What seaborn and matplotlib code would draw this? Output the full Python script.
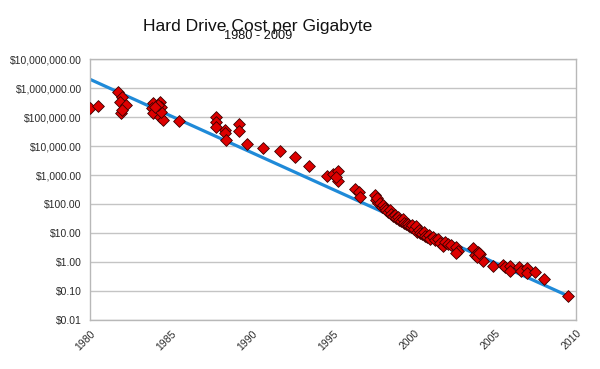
import numpy as np
import pandas as pd
import seaborn as sns
import matplotlib.pyplot as plt
from matplotlib.ticker import FixedLocator, FuncFormatter

# cost per gigabyte (USD) by year
years = [
    1980.0, 1980.5, 1981.7, 1981.95, 1981.85, 1982.2, 1981.9, 1982.0,
    1983.9, 1984.3, 1983.8, 1984.4, 1984.1, 1983.9, 1984.3, 1984.5, 1984.4, 1984.2, 1984.0,
    1985.5, 1987.76, 1987.76, 1987.76, 1988.33, 1988.33, 1988.4, 1989.2, 1989.2,
    1989.7, 1990.7, 1991.7, 1992.65, 1993.5, 1994.65, 1995.0, 1995.3, 1995.3, 1995.17,
    1996.36, 1996.6, 1996.67, 1997.6, 1997.65, 1997.8,
    1997.7, 1997.9, 1998.0, 1998.1, 1998.2, 1998.3, 1998.4, 1998.5, 1998.6, 1998.7,
    1998.8, 1998.9, 1999.0, 1999.1, 1999.2, 1999.3, 1999.4, 1999.5, 1999.6, 1999.7,
    1999.8, 1999.9, 2000.0, 2000.1, 2000.2, 2000.3, 2000.4, 2000.5, 2000.6, 2000.7,
    2000.8, 2000.9, 2001.0, 2001.2, 2001.3, 2001.5, 2001.6, 2001.8, 2001.9, 2002.1,
    2002.3, 2002.6, 2002.7, 2002.6,
    2003.66, 2003.77, 2003.98, 2004.1, 2004.24, 2003.87, 2004.0, 2004.9, 2005.5, 2005.6,
    2005.9, 2005.9, 2006.5, 2006.6, 2006.95, 2006.95, 2007.47, 2008.0, 2009.5,
]
cost = [
    2.0e5, 2.4e5, 7.4e5, 5.0e5, 3.2e5, 2.6e5, 1.4e5, 1.8e5,
    3.1e5, 3.4e5, 2.0e5, 2.3e5, 1.7e5, 1.35e5, 1.0e5, 8.0e4, 1.5e5, 2.6e5, 2.2e5,
    7.4e4, 1.0e5, 6.9e4, 4.7e4, 3.5e4, 2.8e4, 1.6e4, 5.8e4, 3.4e4,
    1.2e4, 8.7e3, 6.9e3, 4.1e3, 2.0e3, 930, 1070, 1400, 630, 870,
    320, 270, 170, 200, 140, 105,
    158, 112, 79, 89, 71, 63, 52, 60, 45, 40,
    42, 32, 35, 28, 25, 30, 22, 20, 21, 18,
    16, 19, 14, 17, 11, 12.6, 10, 8.9, 10.5, 7.9,
    7.1, 8.3, 6.3, 7.1, 5.6, 6.0, 4.5, 3.5, 5.0, 4.2,
    3.8, 3.2, 2.4, 2.0,
    2.95, 1.74, 2.3, 1.9, 1.1, 1.5, 2.0, 0.72, 0.79, 0.66,
    0.72, 0.50, 0.66, 0.50, 0.60, 0.41, 0.47, 0.26, 0.069,
]

# exponential trend line end points
trend_years = [1980.0, 2009.5]
trend_cost = [2.0e6, 0.068]

xtick_years = [1980, 1985, 1990, 1995, 2000, 2005, 2010]
ytick_values = [0.01, 0.1, 1, 10, 100, 1e3, 1e4, 1e5, 1e6, 1e7]

points = pd.DataFrame({"year": years, "cost": cost})
trend = pd.DataFrame({"year": trend_years, "cost": trend_cost})

sns.set_style("white")
plt.rcParams["font.family"] = ["Liberation Sans", "DejaVu Sans"]

fig = plt.figure(figsize=(6, 3.69), dpi=100)
ax = fig.add_axes([0.15, 0.1328, 0.81, 0.7072])

sns.lineplot(data=trend, x="year", y="cost", ax=ax, color="#1f8ad8", linewidth=2.3, zorder=2)
sns.scatterplot(data=points, x="year", y="cost", ax=ax, marker="D", s=36,
                color="#dd0000", edgecolor="#3a0000", linewidth=0.6, zorder=3)

ax.set_yscale("log")
ax.set_xlim(1980, 2010)
ax.set_ylim(0.01, 1e7)
ax.yaxis.set_major_locator(FixedLocator(ytick_values))
ax.yaxis.set_minor_locator(FixedLocator([]))
ax.yaxis.set_major_formatter(FuncFormatter(lambda v, p: f"${v:,.2f}"))
ax.set_xticks(xtick_years)
ax.set_xticklabels([str(y) for y in xtick_years], rotation=45, ha="right",
                   rotation_mode="anchor")

ax.grid(axis="y", color="#c4c4c4", linewidth=1.0)
ax.grid(axis="x", visible=False)
ax.set_axisbelow(True)
for s in ax.spines.values():
    s.set_color("#b8b8b8")
    s.set_linewidth(1.0)
ax.tick_params(axis="both", which="major", direction="out", length=4, width=1,
               color="#b8b8b8", labelsize=7.5, labelcolor="#2a2a2a", pad=2)
ax.set_xlabel("")
ax.set_ylabel("")

fig.text(0.43, 0.916, "Hard Drive Cost per Gigabyte", ha="center", va="baseline",
         fontsize=12.6, color="#111111")
fig.text(0.43, 0.895, "1980 - 2009", ha="center", va="baseline",
         fontsize=9.2, color="#111111")

fig.savefig("out.png", dpi=100)
